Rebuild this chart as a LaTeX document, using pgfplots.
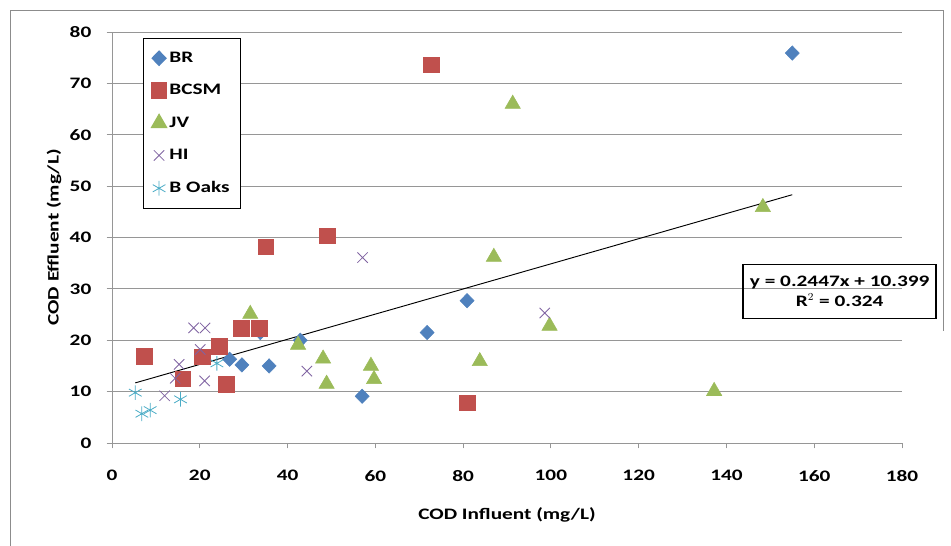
\documentclass[border=0pt]{standalone}
\usepackage{fontspec}
\setmainfont{Carlito}[FakeStretch=1.33]
\usepackage{pgfplots}
\pgfplotsset{compat=1.18}

\definecolor{cBR}{HTML}{4F81BD}
\definecolor{cBCSM}{HTML}{C0504D}
\definecolor{cJV}{HTML}{9BBB59}
\definecolor{cHI}{HTML}{8064A2}
\definecolor{cBO}{HTML}{4BACC6}
\definecolor{gridgray}{HTML}{969696}
\definecolor{framegray}{HTML}{8C8C8C}

\begin{document}
\begin{tikzpicture}
\path[use as bounding box] (-84pt,-77.25pt) rectangle (629.25pt,332.25pt);
\draw[framegray, line width=0.6pt] (-76.5pt,-80pt) -- (-76.5pt,324.75pt) -- (623.25pt,324.75pt) -- (623.25pt,84pt);
\begin{axis}[
    scale only axis,
    width=592.5pt, height=308.25pt,
    xmin=0, xmax=180, ymin=0, ymax=80,
    xtick={0,20,...,180}, ytick={0,10,...,80},
    axis x line=bottom, axis y line=left,
    axis line style={-, gridgray, line width=0.7pt},
    tick style={gridgray, line width=0.7pt},
    tick align=outside,
    major tick length=4pt,
    ymajorgrids,
    grid style={gridgray, line width=0.7pt},
    clip=false,
    font=\bfseries\fontsize{12}{14}\selectfont,
    /pgf/number format/assume math mode=true,
    ticklabel style={font=\bfseries\fontsize{12}{14}\selectfont},
    yticklabel style={xshift=-8pt},
    xticklabel style={yshift=-13pt},
    xlabel={COD Influent (mg/L)},
    ylabel={COD Effluent (mg/L)},
    xlabel style={at={(rel axis cs:0.5,0)}, anchor=center, yshift=-54pt},
    ylabel style={at={(rel axis cs:0,0.5)}, anchor=center, yshift=43.5pt},
    legend cell align=left,
    legend style={at={(rel axis cs:0.039,0.985)}, anchor=north west,
        draw=black, line width=0.8pt, row sep=11pt,
        inner xsep=6pt, inner ysep=8pt,
        font=\bfseries\fontsize{12}{14}\selectfont},
]
\addplot[only marks, mark=diamond*, mark size=5.4pt, color=cBR, mark options={xscale=1.3}] coordinates {
(26.8,16.3) (29.6,15.2) (33.8,21.5) (35.8,15.0) (42.9,20.0) (57.0,9.1)
(71.8,21.5) (80.9,27.7) (155.0,75.9)};
\addlegendentry{BR}
\addplot[only marks, mark=square*, mark size=5.8pt, color=cBCSM] coordinates {
(7.4,16.9) (16.1,12.5) (20.6,16.8) (24.4,18.8) (26.0,11.4) (29.5,22.3)
(33.6,22.3) (35.0,38.2) (49.0,40.3) (72.7,73.6) (81.0,7.8)};
\addlegendentry{BCSM}
\addplot[only marks, mark=triangle*, mark size=6.6pt, color=cJV] coordinates {
(31.5,25.1) (42.4,19.1) (48.1,16.4) (48.9,11.5) (59.0,15.0) (59.7,12.4)
(83.8,15.9) (87.0,36.2) (91.3,66.0) (99.7,22.8) (137.2,10.1) (148.3,45.9)};
\addlegendentry{JV}
\addplot[only marks, mark=x, mark size=5.5pt, color=cHI, mark options={line width=0.6pt}] coordinates {
(12.0,9.2) (14.4,12.6) (15.3,15.3) (18.6,22.4) (20.1,18.2) (21.2,22.4)
(21.1,12.1) (44.4,14.0) (57.1,36.1) (98.6,25.3)};
\addlegendentry{HI}
\addplot[only marks, mark=asterisk, mark size=5.5pt, color=cBO, mark options={line width=0.6pt}] coordinates {
(5.3,9.8) (6.8,5.7) (8.7,6.4) (15.6,8.5) (23.9,15.5)};
\addlegendentry{B Oaks}
\addplot[black, line width=0.7pt, forget plot] coordinates {(5.3,11.70) (155.0,48.33)};
\node[draw=black, line width=1.2pt, align=center, minimum width=144.75pt, minimum height=40.5pt,
    font=\bfseries\fontsize{12}{15}\selectfont, inner sep=2pt]
    at (axis cs:165.8,29.5) {y = 0.2447x + 10.399\\R$^{2}$ = 0.324};
\end{axis}
\end{tikzpicture}
\end{document}
